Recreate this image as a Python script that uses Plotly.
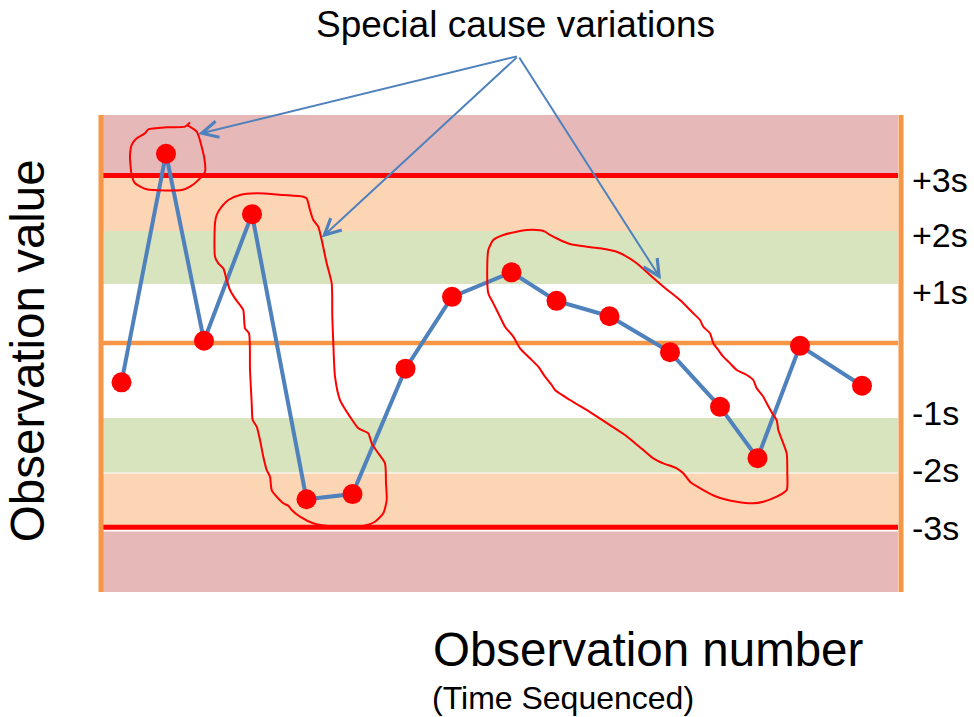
import plotly.graph_objects as go

# ---------------- data ----------------
# observation positions (x) and values in sigma units (y), centre line = 0
obs_x = [0.43, 1.32, 2.08, 3.04, 4.13, 5.05, 6.11, 7.04, 8.23, 9.13, 10.19, 11.40, 12.40, 13.15, 14.00, 15.24]
obs_y = [-0.69, 3.32, 0.04, 2.26, -2.74, -2.65, -0.45, 0.81, 1.24, 0.74, 0.47, -0.16, -1.12, -2.02, -0.05, -0.75]

# zone limits (sigma units)
ucl = 2.94
lcl = -3.23
center = 0.0
zone_top = 4.0
zone_bottom = -4.368
upper_b_limit = 1.965
upper_c_limit = 1.035
lower_c_limit = -1.316
lower_b_limit = -2.28

sigma_labels = ["+3s", "+2s", "+1s", "-1s", "-2s", "-3s"]
sigma_label_pos = [2.86, 1.895, 0.895, -1.228, -2.228, -3.246]

# hand-drawn loops around special-cause runs
loop1_x = [1.734, 1.934, 2.034, 2.10, 2.10, 2.0, 1.80, 1.634, 0.934, 0.70, 0.634, 0.60, 0.634, 0.734, 0.90, 0.966, 1.334, 1.70, 1.80]
loop1_y = [3.825, 3.707, 3.444, 3.153, 3.005, 2.889, 2.742, 2.684, 2.696, 2.802, 2.947, 3.268, 3.474, 3.591, 3.679, 3.749, 3.784, 3.795, 3.87]

loop2_x = [4.134, 4.20, 4.266, 4.366, 4.434, 4.534, 4.634, 4.646, 4.666, 4.70, 4.80, 5.0, 5.166, 5.366, 5.434, 5.566, 5.70, 5.72, 5.734, 5.666, 5.50, 5.266, 4.666, 4.266, 4.0, 3.834, 3.766, 3.666, 3.534, 3.434, 3.40, 3.334, 3.266, 3.20, 3.134, 3.054, 3.034, 3.0, 2.98, 2.90, 2.866, 2.80, 2.70, 2.60, 2.534, 2.466, 2.366, 2.30, 2.30, 2.334, 2.434, 2.566, 2.80, 3.134, 3.666, 4.066, 4.134]
loop2_y = [2.539, 2.333, 2.158, 2.040, 1.807, 1.398, 1.047, 0.461, -0.005, -0.591, -1.0, -1.293, -1.496, -1.584, -1.760, -1.935, -2.111, -2.461, -2.754, -2.988, -3.135, -3.211, -3.223, -3.163, -3.047, -2.930, -2.854, -2.812, -2.696, -2.579, -2.346, -2.228, -1.995, -1.702, -1.468, -1.351, -1.058, -0.474, 0.170, 0.258, 0.579, 0.667, 0.784, 0.930, 1.105, 1.311, 1.398, 1.514, 2.100, 2.246, 2.391, 2.509, 2.596, 2.626, 2.596, 2.567, 2.539]

loop3_x = [7.866, 8.066, 8.334, 8.534, 8.80, 8.90, 9.0, 9.2, 9.4, 9.734, 10.0, 10.334, 10.534, 10.734, 11.0, 11.30, 11.60, 11.866, 12.0, 12.066, 12.20, 12.266, 12.366, 12.466, 12.60, 12.734, 12.934, 13.066, 13.134, 13.266, 13.334, 13.466, 13.534, 13.566, 13.666, 13.734, 13.746, 13.734, 13.534, 13.266, 13.066, 12.734, 12.334, 12.066, 11.80, 11.666, 11.534, 11.266, 11.066, 10.866, 10.666, 10.50, 10.20, 9.80, 9.40, 9.10, 9.034, 8.90, 8.766, 8.60, 8.40, 8.266, 8.10, 8.0, 7.866, 7.766, 7.746, 7.766, 7.866]
loop3_y = [1.807, 1.895, 1.953, 1.982, 1.977, 1.953, 1.895, 1.807, 1.737, 1.689, 1.661, 1.602, 1.514, 1.398, 1.193, 0.965, 0.754, 0.521, 0.404, 0.286, 0.170, -0.005, -0.123, -0.240, -0.356, -0.474, -0.561, -0.649, -0.795, -0.942, -1.058, -1.263, -1.351, -1.526, -1.760, -1.935, -2.286, -2.579, -2.696, -2.784, -2.812, -2.784, -2.696, -2.579, -2.433, -2.286, -2.198, -2.111, -2.023, -1.877, -1.732, -1.614, -1.439, -1.211, -1.0, -0.825, -0.737, -0.591, -0.416, -0.268, -0.093, 0.111, 0.286, 0.461, 0.696, 0.872, 1.398, 1.632, 1.807]

# callout: arrow tail and heads
callout_text = "Special cause variations"
arrow_tail = (8.366, 5.035)
arrow_heads_x = [1.966, 4.434, 11.22]
arrow_heads_y = [3.667, 1.851, 1.12]

x_title = "Observation number"
x_subtitle = "(Time Sequenced)"
y_title = "Observation value"

# ---------------- styling ----------------
PINK = "#E6B9B8"
ORANGE_BAND = "#FCD5B5"
GREEN = "#D7E4BD"
RED = "#FF0000"
ORANGE = "#F79646"
BLUE = "#4F81BD"
FONT = "Liberation Sans, Arial, sans-serif"

X0, X1 = 0.06, 15.96   # band extent
XL, XR = 0.02, 16.02   # vertical frame lines
GAP = 0.02

fig = go.Figure()

bands = [
    (ucl, zone_top, PINK),
    (upper_b_limit, ucl, ORANGE_BAND),
    (upper_c_limit, upper_b_limit, GREEN),
    (lower_b_limit + GAP / 2, lower_c_limit, GREEN),
    (lcl, lower_b_limit - GAP / 2, ORANGE_BAND),
    (zone_bottom, lcl - 0.075, PINK),
]
for lo, hi, col in bands:
    fig.add_shape(type="rect", xref="x", yref="y", x0=X0, x1=X1, y0=lo, y1=hi,
                  fillcolor=col, line_width=0, layer="below")

for yv, col in [(ucl, RED), (lcl, RED), (center, ORANGE)]:
    fig.add_shape(type="line", xref="x", yref="y", x0=X0, x1=X1, y0=yv, y1=yv,
                  line=dict(color=col, width=5 if col == RED else 4.5), layer="below")

for xv in (XL, XR):
    fig.add_shape(type="line", xref="x", yref="y", x0=xv, x1=xv, y0=zone_bottom, y1=zone_top,
                  line=dict(color=ORANGE, width=5), layer="below")

fig.add_trace(go.Scatter(x=obs_x, y=obs_y, mode="lines+markers",
                         line=dict(color=BLUE, width=4),
                         marker=dict(color=RED, size=20, line=dict(width=0)),
                         hoverinfo="skip", showlegend=False))

for lx, ly in [(loop1_x, loop1_y), (loop2_x, loop2_y), (loop3_x, loop3_y)]:
    fig.add_trace(go.Scatter(x=lx, y=ly, mode="lines", line=dict(color=RED, width=2, shape="spline", smoothing=0.6),
                             hoverinfo="skip", showlegend=False))

annotations = []
for hx, hy in zip(arrow_heads_x, arrow_heads_y):
    annotations.append(dict(x=hx, y=hy, xref="x", yref="y", ax=arrow_tail[0], ay=arrow_tail[1],
                            axref="x", ayref="y", text="", showarrow=True, arrowhead=5,
                            arrowsize=1.6, arrowwidth=2, arrowcolor=BLUE, standoff=0))

annotations += [
    dict(x=0.5185, y=1.19, xref="paper", yref="paper", text=callout_text, showarrow=False,
         font=dict(family=FONT, size=37, color="black"), xanchor="center", yanchor="middle"),
    dict(x=0.6815, y=-0.120, xref="paper", yref="paper", text=x_title, showarrow=False,
         font=dict(family=FONT, size=47.5, color="black"), xanchor="center", yanchor="middle"),
    dict(x=0.4123, y=-0.222, xref="paper", yref="paper", text=x_subtitle, showarrow=False,
         font=dict(family=FONT, size=32, color="black"), xanchor="left", yanchor="middle"),
    dict(x=-0.0852, y=0.507, xref="paper", yref="paper", text=y_title, showarrow=False, textangle=-90,
         font=dict(family=FONT, size=47.5, color="black"), xanchor="center", yanchor="middle"),
]

fig.update_layout(
    width=974, height=717,
    margin=dict(l=96, r=68, t=115, b=125, autoexpand=False),
    paper_bgcolor="white", plot_bgcolor="white",
    showlegend=False,
    annotations=annotations,
    xaxis=dict(range=[-0.08, 16.12], showgrid=False, zeroline=False, showline=False,
               showticklabels=False, ticks="", automargin=False),
    yaxis=dict(range=[zone_bottom, zone_top], side="right", showgrid=False, zeroline=False,
               showline=False, ticks="", tickvals=sigma_label_pos, ticktext=sigma_labels,
               tickfont=dict(family=FONT, size=34, color="black"), ticklabelstandoff=5,
               automargin=False),
)

fig.write_html("out.html")
